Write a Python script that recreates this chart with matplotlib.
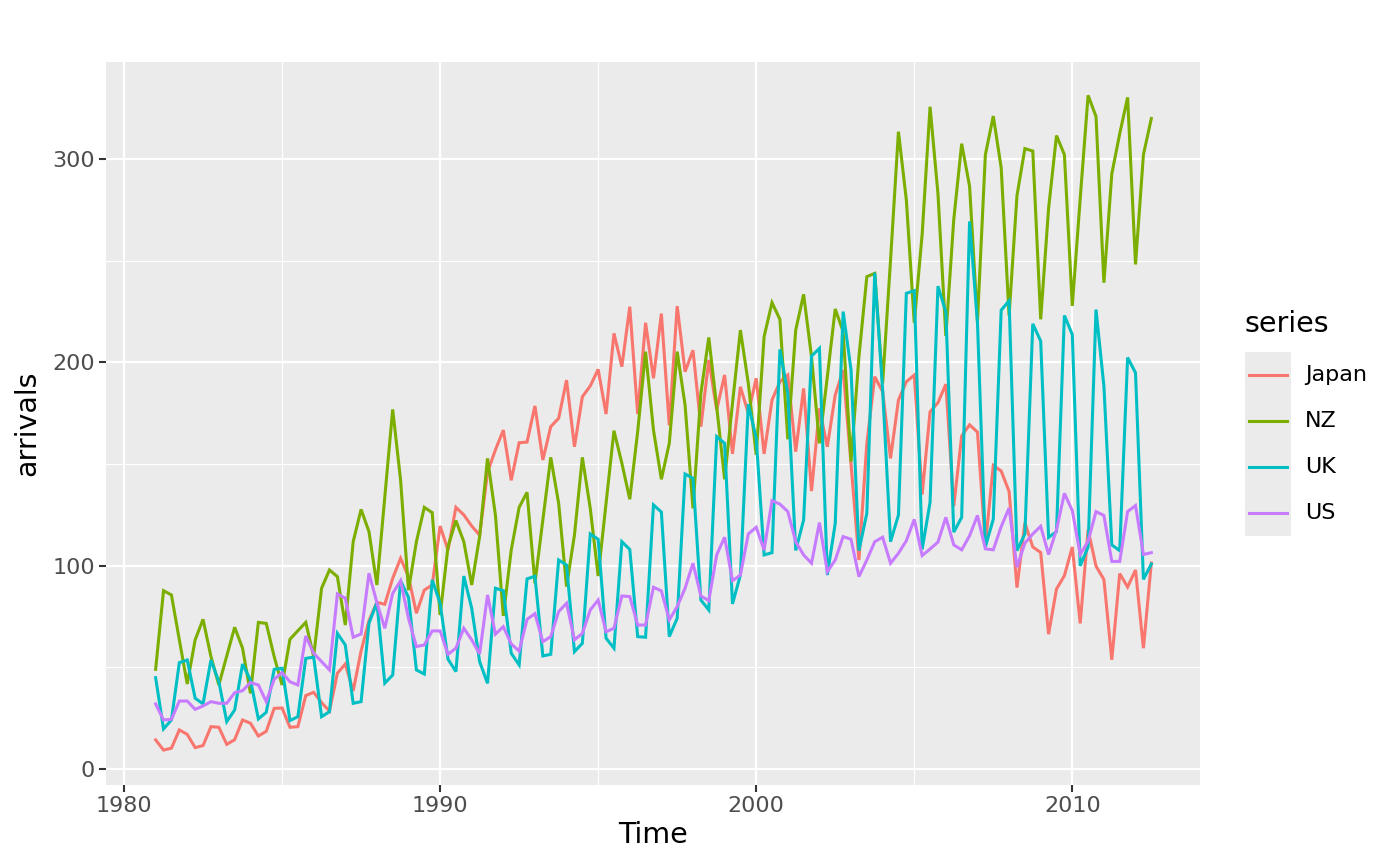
import numpy as np
from matplotlib import pyplot as plt
from matplotlib.lines import Line2D
from matplotlib.patches import Rectangle
from matplotlib.ticker import FixedLocator

# quarterly arrivals (thousands), 1981 Q1 .. 2012 Q3
START_YEAR = 1981
SERIES = ['Japan', 'NZ', 'UK', 'US']
COLORS = ['#F8766D', '#7CAE00', '#00BFC4', '#C77CFF']

japan = [14.3, 9.3, 10.2, 19.2, 17.0, 10.5, 11.5, 20.8, 20.5, 12.1, 14.4, 24.1,
         22.5, 16.2, 18.5, 29.8, 30.0, 20.5, 20.8, 36.1, 37.7, 32.6, 28.5, 47.1,
         51.6, 38.4, 58.0, 73.0, 82.0, 81.0, 93.8, 103.6, 94.6, 76.6, 88.0, 90.5,
         119.5, 107.7, 128.7, 125.0, 119.5, 115.0, 146.0, 157.0, 166.7, 142.0, 160.5, 160.8,
         178.6, 152.0, 168.4, 172.5, 191.3, 158.5, 183.1, 188.4, 196.6, 174.6, 214.3, 197.9,
         227.4, 174.6, 219.5, 192.2, 224.0, 169.0, 227.7, 195.4, 206.0, 168.4, 201.2, 176.6,
         193.8, 155.0, 188.0, 175.0, 192.2, 155.0, 181.5, 190.5, 193.8, 156.1, 187.2, 136.7,
         177.4, 158.5, 184.0, 196.3, 150.0, 102.8, 160.2, 193.0, 185.6, 152.8, 181.5, 190.5,
         193.8, 135.0, 175.7, 180.2, 189.3, 129.3, 163.8, 169.3, 165.7, 110.2, 149.3, 146.6,
         136.5, 89.2, 121.1, 109.2, 106.5, 66.3, 88.5, 95.1, 109.2, 71.6, 117.7, 99.8,
         93.2, 53.7, 96.1, 89.5, 97.9, 59.4, 101.3]

nz = [49.0, 87.7, 85.6, 63.5, 41.8, 63.5, 73.6, 55.3, 41.3, 55.6, 69.7, 59.4,
      37.2, 72.1, 71.6, 55.3, 41.3, 63.8, 68.0, 72.1, 55.3, 88.9, 97.9, 94.6,
      70.8, 111.8, 127.7, 116.7, 90.5, 133.8, 176.9, 142.0, 88.0, 111.8, 128.7, 126.1,
      75.7, 109.4, 122.2, 111.8, 90.5, 114.3, 152.8, 124.9, 75.3, 107.7, 128.7, 136.1,
      91.3, 122.5, 153.3, 130.7, 89.7, 115.1, 153.3, 128.2, 94.9, 130.7, 166.4, 150.4,
      132.7, 165.9, 205.3, 166.7, 142.5, 160.2, 205.3, 179.0, 128.2, 184.8, 212.3, 178.2,
      142.5, 179.9, 215.9, 189.7, 154.5, 212.7, 229.4, 221.2, 162.2, 215.9, 233.5, 202.8,
      160.2, 193.0, 226.3, 215.1, 151.2, 202.8, 242.2, 243.8, 189.7, 250.4, 313.5, 279.9,
      219.5, 263.0, 325.8, 283.0, 213.0, 270.3, 307.6, 286.7, 220.3, 302.2, 321.2, 295.8,
      223.0, 282.1, 305.2, 304.0, 221.2, 275.8, 311.6, 302.2, 227.8, 280.6, 331.4, 321.0,
      239.2, 292.8, 312.5, 330.4, 248.2, 302.2, 320.0]

uk = [44.9, 19.7, 24.1, 52.3, 53.6, 34.8, 32.0, 53.6, 42.9, 23.3, 29.0, 51.6,
      43.8, 24.6, 27.9, 49.0, 49.5, 23.8, 25.7, 54.4, 55.0, 25.7, 28.2, 66.7,
      61.0, 32.3, 33.1, 71.7, 81.8, 42.2, 46.2, 92.6, 84.4, 48.7, 46.7, 93.0,
      81.5, 54.0, 47.9, 94.9, 79.0, 52.8, 42.1, 88.9, 87.7, 56.9, 51.2, 93.5,
      94.8, 55.6, 56.4, 102.8, 100.3, 57.7, 61.8, 115.6, 113.0, 64.3, 59.4, 111.8,
      108.0, 65.1, 64.8, 129.9, 126.4, 65.1, 74.1, 145.1, 143.0, 83.1, 78.2, 163.5,
      160.2, 81.2, 95.4, 179.5, 162.7, 105.3, 106.4, 206.4, 184.8, 107.5, 122.5, 203.1,
      206.9, 95.4, 120.8, 225.0, 196.3, 107.4, 125.8, 244.1, 186.4, 111.8, 124.9, 234.0,
      235.3, 108.0, 131.1, 237.5, 224.8, 116.5, 123.8, 269.4, 219.4, 109.2, 122.9, 225.7,
      230.3, 107.4, 115.6, 219.0, 210.5, 113.9, 116.8, 223.1, 213.7, 99.9, 109.2, 226.0,
      188.3, 110.2, 107.4, 202.4, 194.9, 93.3, 100.8]

us = [32.0, 24.1, 24.4, 33.4, 33.4, 29.3, 31.0, 33.1, 32.3, 32.3, 37.5, 38.5,
      42.5, 41.3, 33.1, 44.1, 47.4, 42.9, 41.3, 65.4, 56.9, 52.8, 48.7, 86.1,
      84.0, 64.8, 66.4, 96.3, 81.8, 69.2, 86.4, 92.6, 74.1, 60.2, 61.0, 67.9,
      67.9, 56.4, 59.4, 69.2, 63.5, 56.6, 85.6, 66.3, 70.0, 61.5, 58.0, 73.6,
      76.4, 62.6, 65.1, 77.4, 81.5, 63.5, 66.7, 78.2, 83.1, 67.5, 69.2, 85.1,
      84.8, 70.8, 70.8, 89.4, 87.6, 73.3, 79.9, 88.9, 101.2, 85.1, 82.8, 105.3,
      114.0, 92.6, 95.4, 115.6, 118.9, 107.7, 132.0, 130.3, 126.6, 111.8, 105.3, 101.2,
      121.2, 97.0, 102.8, 114.3, 113.0, 94.6, 102.8, 111.8, 114.0, 101.2, 106.1, 112.3,
      122.8, 105.0, 108.2, 111.6, 123.8, 110.2, 107.8, 114.7, 124.7, 108.3, 107.8, 119.2,
      128.4, 99.3, 111.1, 115.6, 119.4, 105.5, 117.7, 135.6, 127.1, 105.5, 112.0, 126.6,
      124.7, 102.1, 102.1, 126.6, 129.6, 105.5, 106.4]

X_TICKS = [1980, 1990, 2000, 2010]
X_MINOR = [1985, 1995, 2005]
Y_TICKS = [0, 100, 200, 300]
Y_MINOR = [50, 150, 250]

W, H = 1400, 866


def fx(px):
    return px / W


def fy(py):
    return 1 - py / H


if __name__ == "__main__":
    plt.rcParams['font.family'] = ['DejaVu Sans']
    fig = plt.figure(figsize=(14, 8.66), dpi=100)
    ax = fig.add_axes([fx(106), fy(785), fx(1200) - fx(106), fy(62) - fy(785)])
    ax.set_facecolor('#EBEBEB')
    for s in ax.spines.values():
        s.set_visible(False)

    quarters = START_YEAR + np.arange(len(japan)) / 4
    for vals, col in zip([japan, nz, uk, us], COLORS):
        ax.plot(quarters, vals, color=col, linewidth=2.2, solid_joinstyle='miter')

    ax.set_xlim(1979.43, 2014.04)
    ax.set_ylim(-7.9, 347.8)
    ax.xaxis.set_major_locator(FixedLocator(X_TICKS))
    ax.xaxis.set_minor_locator(FixedLocator(X_MINOR))
    ax.yaxis.set_major_locator(FixedLocator(Y_TICKS))
    ax.yaxis.set_minor_locator(FixedLocator(Y_MINOR))
    ax.grid(which='major', color='white', linewidth=1.6)
    ax.grid(which='minor', color='white', linewidth=0.8)
    ax.set_axisbelow(True)
    ax.tick_params(which='major', length=5, width=1.5, color='#333333',
                   labelsize=16, labelcolor='#4D4D4D', pad=3)
    ax.tick_params(which='minor', length=0)

    fig.text(fx(653), fy(835), 'Time', fontsize=20.5, ha='center', va='center')
    fig.text(fx(27), fy(423), 'arrivals', fontsize=20.5, ha='center', va='center',
             rotation=90)

    # legend
    fig.text(fx(1245), fy(324), 'series', fontsize=20.5, ha='left', va='center')
    fig.add_artist(Rectangle((fx(1245), fy(536)), fx(46), 184 / H,
                             transform=fig.transFigure, facecolor='#EBEBEB',
                             edgecolor='none'))
    for i, (name, col) in enumerate(zip(SERIES, COLORS)):
        yy = fy(375 + i * 46)
        fig.add_artist(Line2D([fx(1249), fx(1287)], [yy, yy], color=col,
                              linewidth=2.2, transform=fig.transFigure))
        fig.text(fx(1305), yy, name, fontsize=16, ha='left', va='center')

    plt.savefig('out.png', dpi=100)
